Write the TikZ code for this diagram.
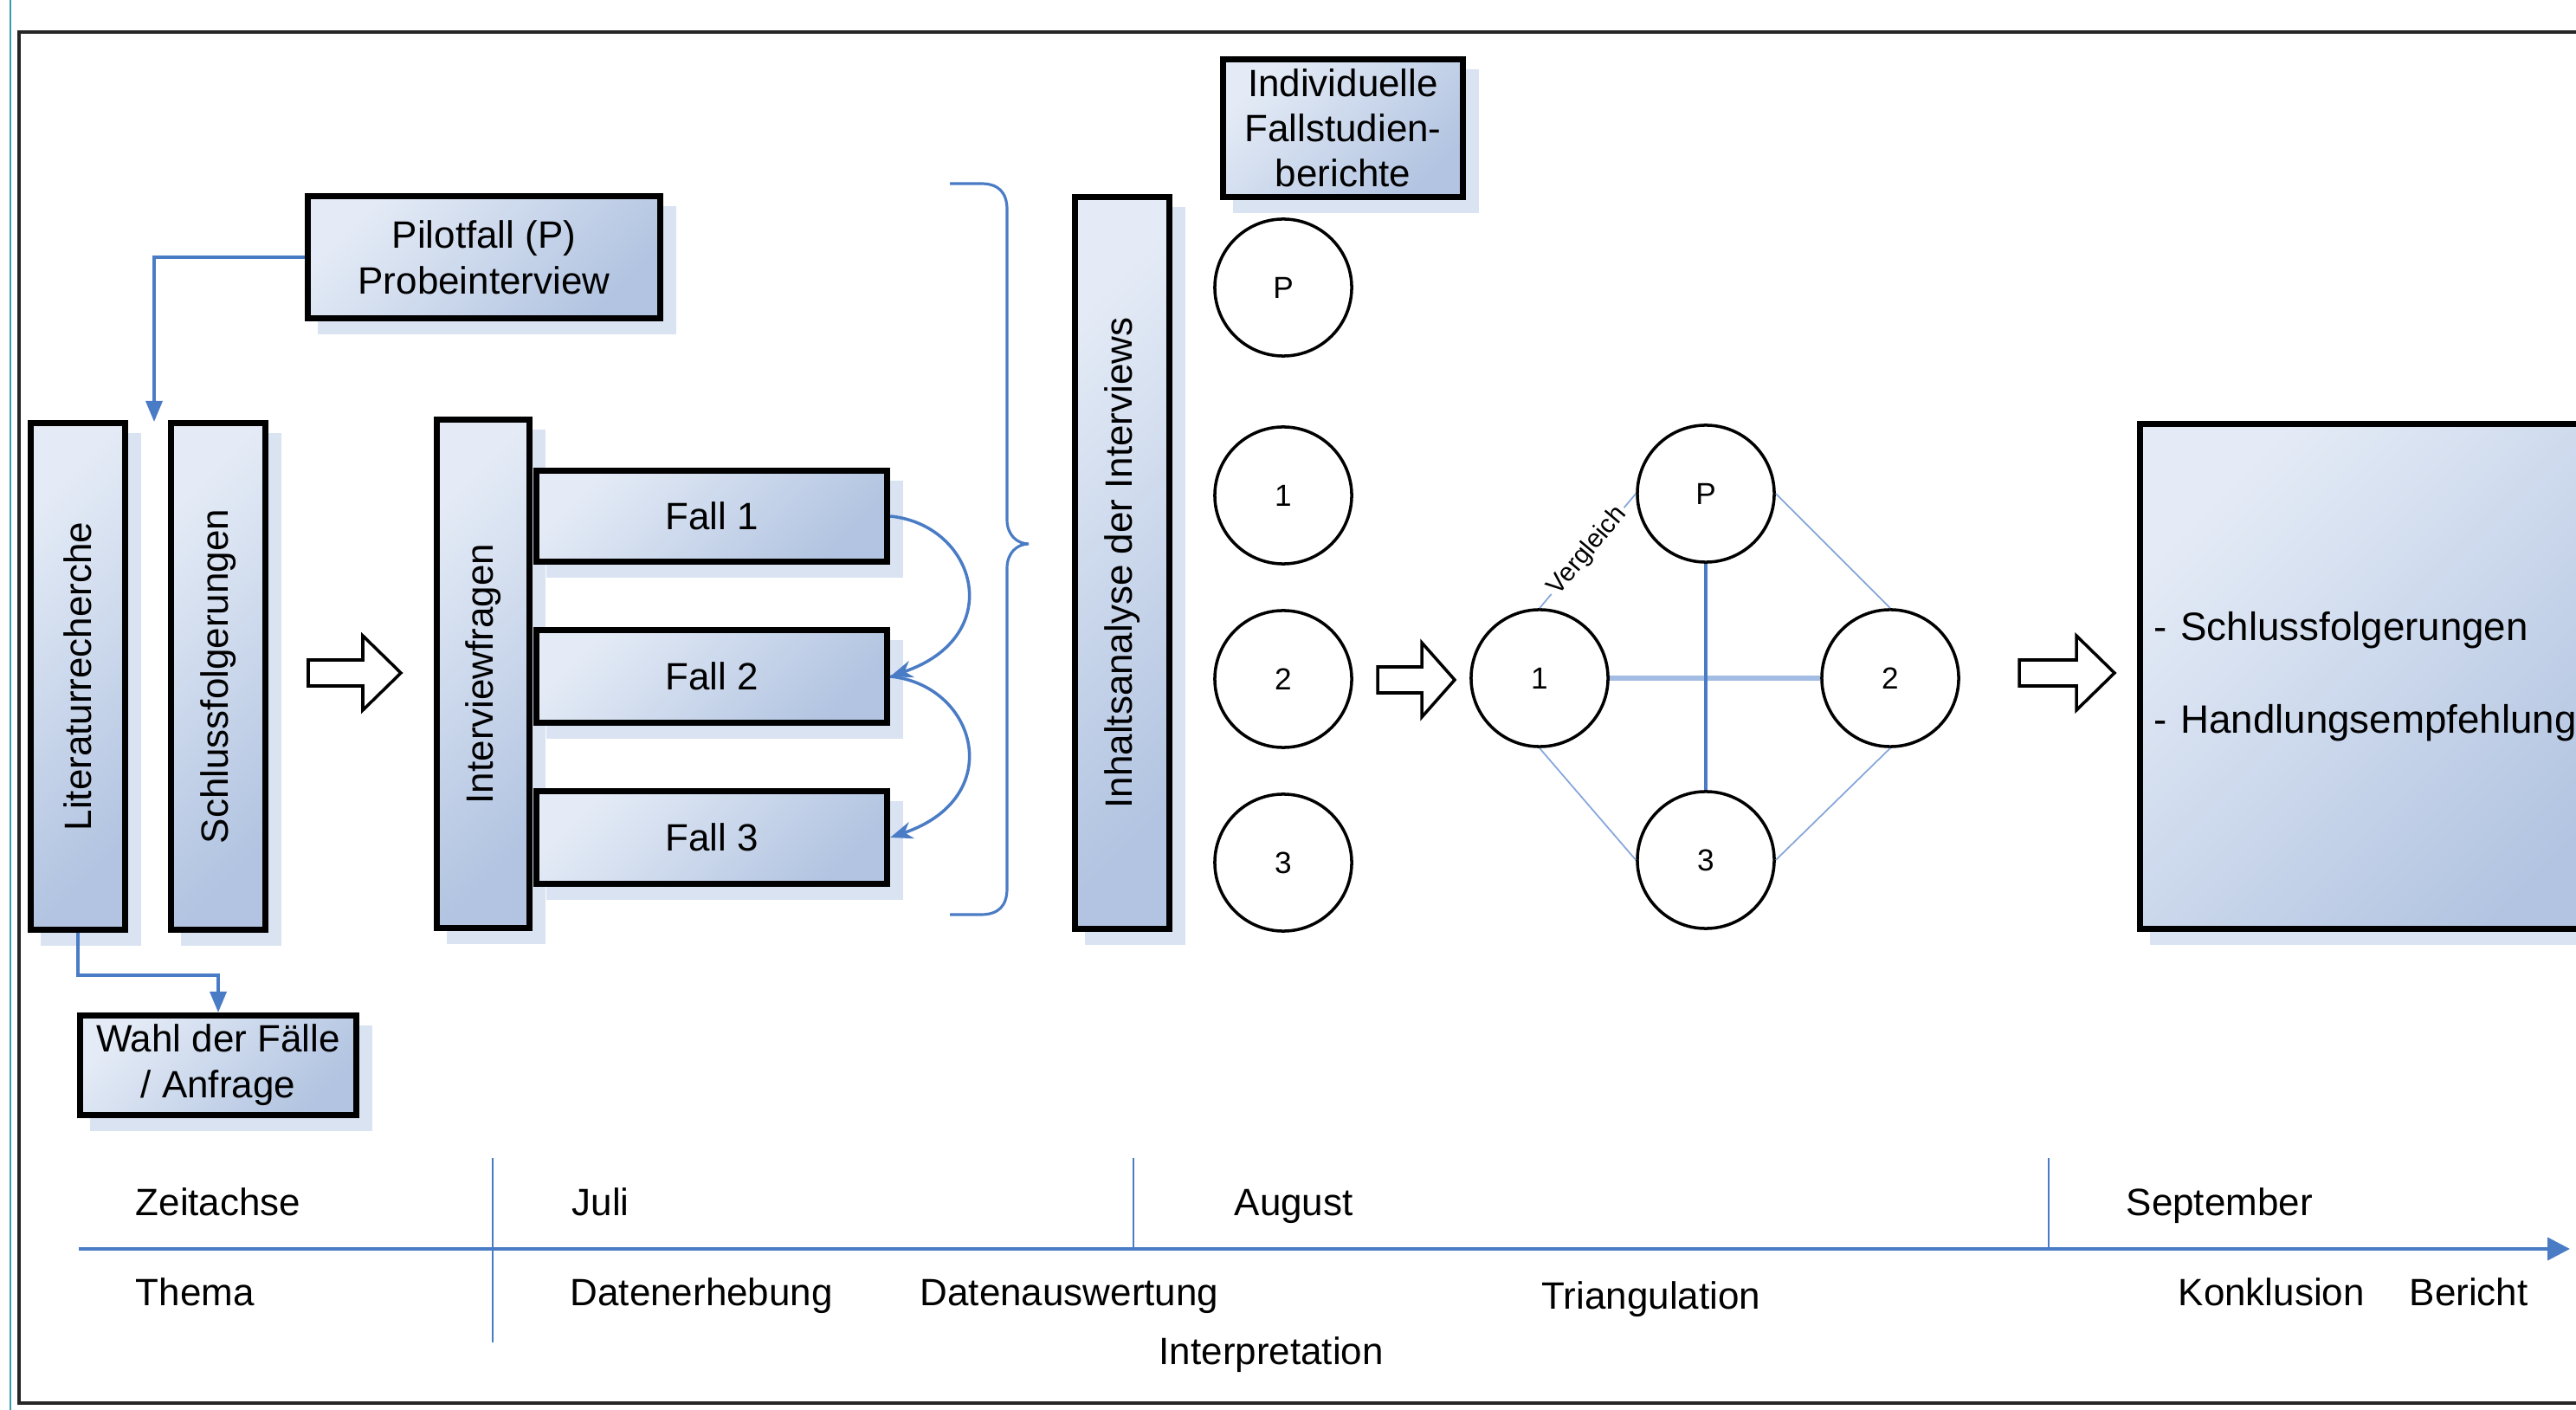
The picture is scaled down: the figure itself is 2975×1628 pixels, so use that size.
\documentclass[tikz,border=0pt]{standalone}
\usepackage{fontspec}
\setmainfont{Liberation Sans}
\usetikzlibrary{arrows.meta,backgrounds,calc}
\definecolor{boxlight}{HTML}{E4EBF6}
\definecolor{boxdark}{HTML}{B2C4E1}
\definecolor{shadowcol}{HTML}{D9E3F2}
\definecolor{linkblue}{HTML}{4A7CC6}
\definecolor{thinblue}{HTML}{86A7DA}
\definecolor{paleblue}{HTML}{A3BCE4}
\definecolor{tealline}{HTML}{3A9AA6}
\tikzset{
  pics/hollowarrow/.style args={#1/#2}{code={
    \draw[line width=1pt, fill=white, line join=miter]
      (0,-15) -- (#1,-15) -- (#1,-43) -- ({#1+#2},0) -- (#1,43) -- (#1,15) -- (0,15) -- cycle;
  }}
}
\begin{document}
\begin{tikzpicture}[x=0.01cm,y=-0.01cm,
  txt/.style={font=\fontsize{12.5}{15}\selectfont},
  gbox/.style={draw=black, line width=2pt, top color=boxlight, bottom color=boxdark,
     shading angle=45, inner sep=0pt, align=center, txt},
  vbox/.style={gbox, rotate=90},
  circ/.style={circle, draw=black, line width=1pt, minimum size=1.58cm, inner sep=0pt,
     fill=white, font=\fontsize{10}{12}\selectfont},
  conn/.style={draw=linkblue, line width=1pt, -{Triangle[width=0.19cm,length=0.24cm]}},
  curv/.style={draw=linkblue, line width=1pt, -{Stealth[width=0.2cm,length=0.26cm]}},
  thinlink/.style={draw=thinblue, line width=0.5pt},
  thicklink/.style={draw=paleblue, line width=1.6pt},
  medlink/.style={draw=linkblue, line width=0.9pt},
  timeline/.style={draw=linkblue, line width=1.2pt, -{Triangle[width=0.26cm,length=0.26cm]}},
  sepline/.style={draw=linkblue, line width=0.4pt},
  tltext/.style={txt, anchor=base west, inner sep=0pt},
  vgl/.style={sloped, fill=white, inner sep=1pt, font=\fontsize{8.5}{10}\selectfont}
]
\useasboundingbox (0,0) rectangle (2975,1628);
\clip (0,0) rectangle (2975,1628);

% frame
\draw[black!85, line width=1.1pt] (22,37) rectangle (3050,1620);
\draw[tealline, line width=0.6pt] (12,0) -- (12,1628);

% boxes
\node[gbox, minimum width=4.07cm, minimum height=1.41cm] (pilot) at (559,297) {Pilotfall (P)\\Probeinterview};
\node[vbox, minimum width=5.85cm, minimum height=1.09cm] (lit) at (90,781) {Literaturrecherche};
\node[vbox, minimum width=5.85cm, minimum height=1.09cm] (schluss) at (252,781) {Schlussfolgerungen};
\node[vbox, minimum width=5.87cm, minimum height=1.07cm] (ifr) at (558,778) {Interviewfragen};
\node[gbox, minimum width=4.05cm, minimum height=1.05cm] (f1) at (822,596) {Fall 1};
\node[gbox, minimum width=4.05cm, minimum height=1.06cm] (f2) at (822,781) {Fall 2};
\node[gbox, minimum width=4.05cm, minimum height=1.06cm] (f3) at (822,967) {Fall 3};
\node[gbox, minimum width=3.18cm, minimum height=1.15cm] (wahl) at (252,1230) {Wahl der Fälle\\/ Anfrage};
\node[vbox, minimum width=8.45cm, minimum height=1.08cm] (inh) at (1296,650) {Inhaltsanalyse der Interviews};
\node[gbox, minimum width=2.76cm, minimum height=1.59cm, font=\fontsize{12.5}{14.8}\selectfont] (ind) at (1551,148) {Individuelle\\Fallstudien-\\berichte};
\node[gbox, minimum height=5.82cm, text width=5.4cm, inner xsep=0.16cm, align=left,
      font=\fontsize{13}{30.4}\selectfont] (big) at (2758,781) {- Schlussfolgerungen\\- Handlungsempfehlung};

% shadows
\begin{scope}[on background layer]
  \clip (0,0) rectangle (2975,1628);
  \fill[white] (0,0) rectangle (2975,1628);
  \foreach \b in {pilot,lit,schluss,ifr,f1,f2,f3,wahl,inh,ind,big}
    \fill[shadowcol] ($(\b.south west)+(15,15)$) rectangle ($(\b.north east)+(15,15)$);
\end{scope}

% connectors on the left
\coordinate (gap) at (178,487);
\draw[conn] (pilot.west) -| (gap);
\draw[conn] (lit.west) -- ++(0,49) -| (wahl.north);
\draw[curv] (f1.east) .. controls +(100,10) and +(136,-46) .. (f2.east);
\draw[curv] (f2.east) .. controls +(100,10) and +(136,-46) .. (f3.east);

% brace
\draw[linkblue, line width=0.9pt]
  (1097,212) -- (1133,212) .. controls (1153,212) and (1163,222) .. (1163,242)
  -- (1163,600) .. controls (1163,618) and (1175,628) .. (1188,628)
  .. controls (1175,628) and (1163,638) .. (1163,656)
  -- (1163,1026) .. controls (1163,1046) and (1153,1056) .. (1133,1056) -- (1097,1056);

% hollow arrows
\pic (ha1) at (356,777) {hollowarrow=63/44};
\pic (ha2) at (1591,785) {hollowarrow=51/38};
\pic (ha3) at (2332,777) {hollowarrow=66/44};

% column circles
\node[circ] (cP) at (1482,332) {P};
\node[circ] (c1) at (1482,572) {1};
\node[circ] (c2) at (1482,784) {2};
\node[circ] (c3) at (1482,996) {3};

% diamond
\node[circ] (dP) at (1970,570) {P};
\node[circ] (d1) at (1778,783) {1};
\node[circ] (d2) at (2183,783) {2};
\node[circ] (d3) at (1970,993) {3};
\draw[thinlink] (d1.north) -- node[vgl] {Vergleich} (dP.west);
\draw[thinlink] (dP.east) -- (d2.north);
\draw[thinlink] (d1.south) -- (d3.west);
\draw[thinlink] (d2.south) -- (d3.east);
\draw[thicklink] (d1.east) -- (d2.west);
\draw[medlink] (dP.south) -- (d3.north);

% timeline
\coordinate (t0) at (91,1442);
\coordinate (t1) at (2968,1442);
\draw[timeline] (t0) -- (t1);
\draw[sepline] (569,1337) -- (569,1550);
\draw[sepline] (1309,1337) -- (1309,1442);
\draw[sepline] (2366,1337) -- (2366,1442);

\node[tltext] (zeit) at (156,1403) {Zeitachse};
\node[tltext] (juli) at (660,1403) {Juli};
\node[tltext] (aug) at (1425,1403) {August};
\node[tltext] (sep) at (2455,1403) {September};
\node[tltext] (thema) at (156,1507) {Thema};
\node[tltext] (dater) at (658,1507) {Datenerhebung};
\node[tltext] (datau) at (1062,1507) {Datenauswertung};
\node[tltext] (interp) at (1338,1575) {Interpretation};
\node[tltext] (tri) at (1780,1511) {Triangulation};
\node[tltext] (konk) at (2515,1507) {Konklusion};
\node[tltext] (ber) at (2782,1507) {Bericht};
\end{tikzpicture}
\end{document}
